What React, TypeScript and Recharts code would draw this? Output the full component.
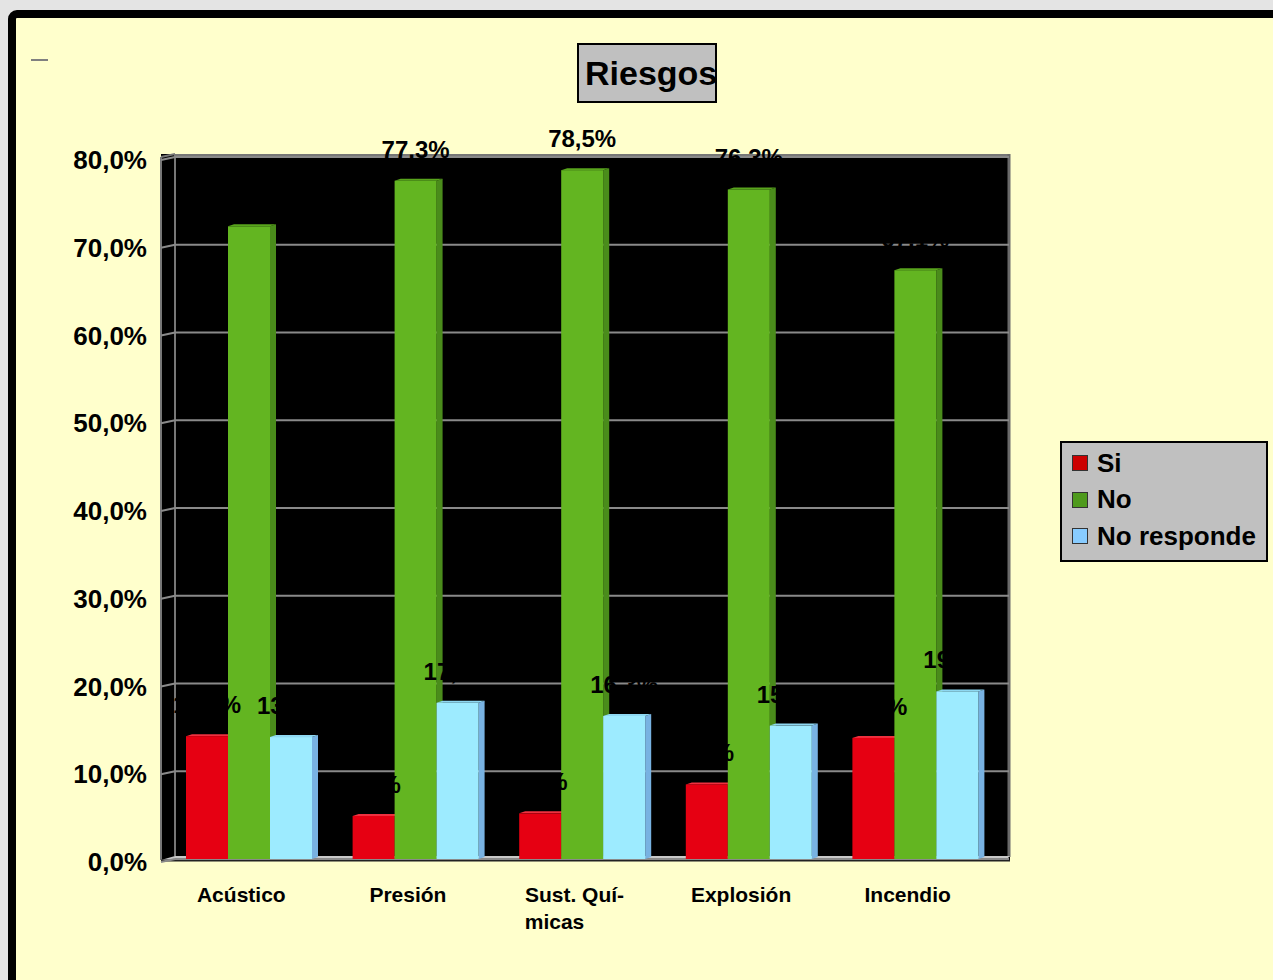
import React from 'react';
import { BarChart, Bar, XAxis, YAxis, CartesianGrid, LabelList } from 'recharts';

const FONT = 'Arial, "Liberation Sans", sans-serif';

const categories = ['Acústico', 'Presión', 'Sust. Quí-\nmicas', 'Explosión', 'Incendio'];
const siValues = [14.0, 4.9, 5.2, 8.5, 13.8];
const noValues = [72.1, 77.3, 78.5, 76.3, 67.1];
const noRespondeValues = [13.9, 17.8, 16.3, 15.2, 19.1];
const yTicks = [0, 10, 20, 30, 40, 50, 60, 70, 80];

const series = [
  { key: 'si', name: 'Si', front: '#E60012', side: '#A5000D', top: '#F0303F', swatch: '#CC0000' },
  { key: 'no', name: 'No', front: '#63B521', side: '#4A8C1B', top: '#58A41C', swatch: '#4E9A1C' },
  { key: 'nr', name: 'No responde', front: '#9DEBFF', side: '#78B2E2', top: '#8ED8F2', swatch: '#88CCFF' },
];

const data = categories.map((name, i) => ({
  name,
  si: siValues[i],
  no: noValues[i],
  nr: noRespondeValues[i],
}));

const fmtPct = (v: number) => `${Number(v).toFixed(1).replace('.', ',')}%`;

const W = 1273;
const H = 980;
const margin = { top: 157, right: 274, bottom: 121, left: 166 };

// 3D-ish bar: front face + right side + thin top face
const make3D = (front: string, side: string, top: string) => (props: any) => {
  const { x, y, width, height } = props;
  if (!height || height <= 0) return <g />;
  const d = 6;
  const e = 2;
  return (
    <g>
      <polygon
        points={`${x + width},${y} ${x + width + d},${y - e} ${x + width + d},${y + height - e} ${x + width},${y + height}`}
        fill={side}
      />
      <polygon
        points={`${x},${y} ${x + d},${y - e} ${x + width + d},${y - e} ${x + width},${y}`}
        fill={top}
      />
      <rect x={x} y={y} width={width} height={height} fill={front} />
    </g>
  );
};

// gridline on back wall + slanted piece on left wall
const gridLine = (props: any) => {
  const { x1, x2, y1, key } = props;
  return (
    <g key={key}>
      <line x1={x1 + 9} x2={x2 + 10} y1={y1} y2={y1} stroke="#8a8a8a" strokeWidth={2} />
      <line x1={x1 - 5} y1={y1 + 3} x2={x1 + 9} y2={y1} stroke="#8a8a8a" strokeWidth={2} />
    </g>
  );
};

const CategoryTick = (props: any) => {
  const { x, y, payload } = props;
  const lines = String(payload.value).split('\n');
  const cx = x - 8;
  return (
    <text
      x={cx}
      y={y}
      fill="#000"
      fontSize={21}
      fontWeight="bold"
      fontFamily={FONT}
      textAnchor="middle"
    >
      {lines.map((l, i) => (
        <tspan key={i} x={cx - (i > 0 ? 20 : 0)} dy={i === 0 ? 43 : 27}>
          {l}
        </tspan>
      ))}
    </text>
  );
};

export default function App() {
  return (
    <div
      style={{
        position: 'relative',
        width: W,
        height: H,
        background: '#E4E4E4',
        overflow: 'hidden',
        fontFamily: FONT,
      }}
    >
      <style>{'body{margin:0}'}</style>
      {/* outer frame */}
      <div
        style={{
          position: 'absolute',
          left: 8,
          top: 10,
          width: 1290,
          height: 1000,
          border: '8px solid #000',
          borderRadius: 9,
          background: '#FFFFCC',
        }}
      />
      <div style={{ position: 'absolute', left: 31, top: 59, width: 17, height: 2, background: '#808080' }} />

      {/* walls and floor */}
      <svg style={{ position: 'absolute', left: 0, top: 0 }} width={W} height={H}>
        <rect x={161} y={154} width={849} height={706} fill="#000" />
        <line x1={161} y1={157} x2={161} y2={860} stroke="#777" strokeWidth={2} />
        <line x1={175} y1={154} x2={175} y2={856} stroke="#777" strokeWidth={2} />
        <line x1={175} y1={155} x2={1009} y2={155} stroke="#777" strokeWidth={2} />
        <line x1={161} y1={157} x2={175} y2={154} stroke="#777" strokeWidth={2} />
        <line x1={1009} y1={154} x2={1009} y2={857} stroke="#6a6a6a" strokeWidth={3} />
        <polygon points="161,860 175,856 1010,856 1006,860" fill="#C8C8C8" />
        <line x1={161} y1={860.5} x2={1010} y2={860.5} stroke="#222" strokeWidth={2} />
      </svg>

      {/* bars */}
      <div style={{ position: 'absolute', left: 0, top: 0 }}>
        <BarChart
          width={W}
          height={H}
          data={data}
          margin={{ top: margin.top, right: margin.right, bottom: margin.bottom - 60, left: margin.left - 100 }}
          barSize={42}
          barGap={0}
        >
          <CartesianGrid vertical={false} horizontal={gridLine} />
          <XAxis
            dataKey="name"
            height={60}
            axisLine={false}
            tickLine={false}
            tickSize={0}
            tickMargin={0}
            interval={0}
            tick={<CategoryTick />}
          />
          <YAxis
            width={100}
            domain={[0, 80]}
            ticks={yTicks}
            tickFormatter={fmtPct}
            axisLine={false}
            tickLine={false}
            tickSize={0}
            tickMargin={19}
            tick={{ fill: '#000', fontSize: 26, fontWeight: 'bold', fontFamily: FONT, dy: 3 }}
          />
          {series.map((s) => (
            <Bar
              key={s.key}
              dataKey={s.key}
              name={s.name}
              fill={s.front}
              isAnimationActive={false}
              shape={make3D(s.front, s.side, s.top)}
            />
          ))}
        </BarChart>
      </div>

      {/* value labels, drawn above every bar */}
      <div style={{ position: 'absolute', left: 0, top: 0 }}>
        <BarChart width={W} height={H} data={data} margin={margin} barSize={42} barGap={0}>
          <XAxis dataKey="name" hide />
          <YAxis domain={[0, 80]} ticks={yTicks} hide />
          {series.map((s) => (
            <Bar key={s.key} dataKey={s.key} fill="transparent" isAnimationActive={false}>
              <LabelList
                dataKey={s.key}
                position="top"
                offset={23}
                formatter={(v: any) => fmtPct(Number(v))}
                fill="#000"
                fontSize={24}
                fontWeight="bold"
                fontFamily={FONT}
              />
            </Bar>
          ))}
        </BarChart>
      </div>

      {/* title */}
      <div
        style={{
          position: 'absolute',
          left: 577,
          top: 43,
          width: 130,
          height: 56,
          border: '2px solid #000',
          background: '#C0C0C0',
          overflow: 'hidden',
          fontSize: 34,
          fontWeight: 'bold',
          lineHeight: '56px',
          paddingLeft: 6,
          boxSizing: 'content-box',
          whiteSpace: 'nowrap',
        }}
      >
        Riesgos
      </div>

      {/* legend */}
      <div
        style={{
          position: 'absolute',
          left: 1060,
          top: 441,
          width: 204,
          height: 115,
          border: '2px solid #000',
          background: '#C0C0C0',
          paddingTop: 2,
          boxSizing: 'content-box',
        }}
      >
        {series.map((s) => (
          <div
            key={s.key}
            style={{ display: 'flex', alignItems: 'center', height: 36.5, fontSize: 26, fontWeight: 'bold' }}
          >
            <span
              style={{
                display: 'inline-block',
                width: 14,
                height: 14,
                marginLeft: 10,
                marginRight: 9,
                background: s.swatch,
                border: '1px solid #333',
                boxSizing: 'content-box',
              }}
            />
            <span>{s.name}</span>
          </div>
        ))}
      </div>
    </div>
  );
}
